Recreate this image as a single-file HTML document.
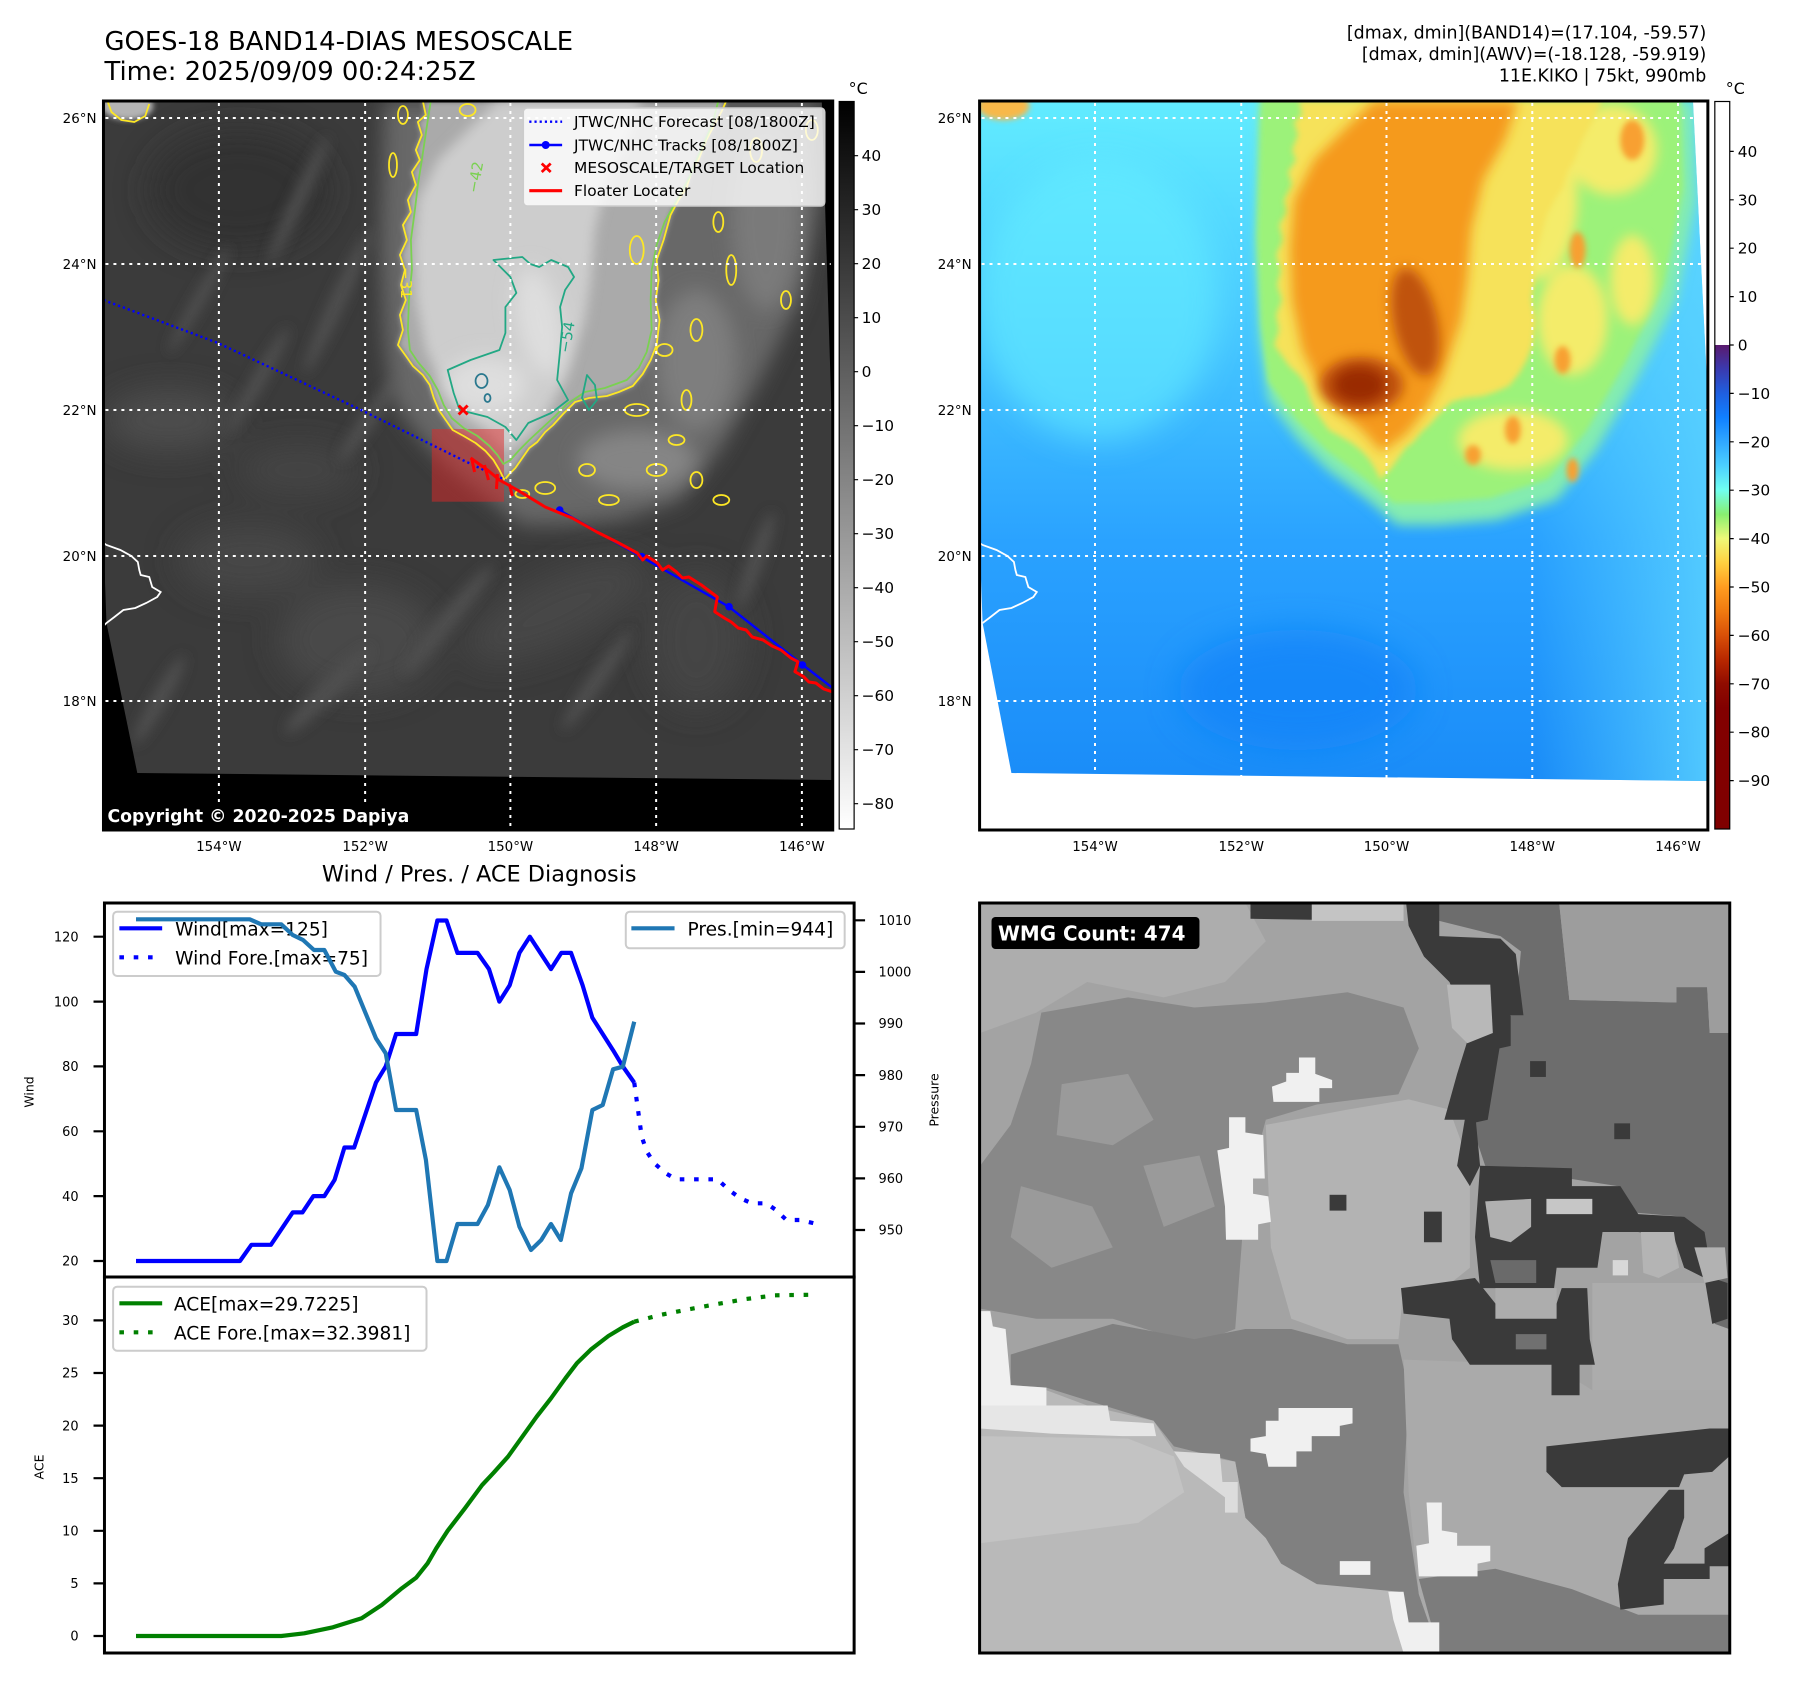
<!DOCTYPE html>
<html><head><meta charset="utf-8">
<style>
html,body{margin:0;padding:0;background:#fff;}
svg{display:block;}
text{font-family:"DejaVu Sans","Liberation Sans",sans-serif;}
</style></head>
<body>
<svg width="1797" height="1690" viewBox="0 0 1797 1690" xmlns="http://www.w3.org/2000/svg">
<defs>
  <clipPath id="cmL"><rect x="104" y="101" width="733" height="729"/></clipPath>
  <clipPath id="cmR"><rect x="980" y="101" width="732" height="729"/></clipPath>
  <clipPath id="cImgL"><polygon points="104,101 826,101 837,450 837,780 138,773 107,623 104,540"/></clipPath>
  <clipPath id="cImgR"><polygon points="980,101 1697,101 1712,400 1712,781 1012,773 983,623 980,540"/></clipPath>
  <clipPath id="cW"><rect x="980" y="903" width="754" height="750"/></clipPath>
  <linearGradient id="gL" x1="0" y1="0" x2="0" y2="1">
    <stop offset="0" stop-color="#000"/><stop offset="1" stop-color="#fff"/>
  </linearGradient>
  <linearGradient id="gR" x1="0" y1="0" x2="0" y2="1">
    <stop offset="0" stop-color="#5a1a6e"/>
    <stop offset="0.05" stop-color="#3a3ab0"/>
    <stop offset="0.1" stop-color="#1f5fe0"/>
    <stop offset="0.15" stop-color="#1080ff"/>
    <stop offset="0.2" stop-color="#30a8ff"/>
    <stop offset="0.25" stop-color="#4cd0ff"/>
    <stop offset="0.3" stop-color="#70fff0"/>
    <stop offset="0.35" stop-color="#88f070"/>
    <stop offset="0.4" stop-color="#eef878"/>
    <stop offset="0.45" stop-color="#ffd040"/>
    <stop offset="0.5" stop-color="#ff9c20"/>
    <stop offset="0.55" stop-color="#f07a10"/>
    <stop offset="0.6" stop-color="#d85008"/>
    <stop offset="0.65" stop-color="#b82800"/>
    <stop offset="0.7" stop-color="#900c00"/>
    <stop offset="0.75" stop-color="#820000"/>
    <stop offset="1" stop-color="#800000"/>
  </linearGradient>
  <linearGradient id="gBg" gradientUnits="userSpaceOnUse" x1="0" y1="101" x2="0" y2="781">
    <stop offset="0" stop-color="#62ecff"/>
    <stop offset="0.35" stop-color="#46c6ff"/>
    <stop offset="0.65" stop-color="#2aa2ff"/>
    <stop offset="1" stop-color="#1a8cf8"/>
  </linearGradient>
  <linearGradient id="gBgR" gradientUnits="userSpaceOnUse" x1="1540" y1="0" x2="1712" y2="0">
    <stop offset="0" stop-color="#5ad2ff" stop-opacity="0"/>
    <stop offset="1" stop-color="#5ad2ff" stop-opacity="0.85"/>
  </linearGradient>
  <filter id="b3" x="-30%" y="-30%" width="160%" height="160%"><feGaussianBlur stdDeviation="3"/></filter>
  <filter id="b6" x="-30%" y="-30%" width="160%" height="160%"><feGaussianBlur stdDeviation="6"/></filter>
  <filter id="b10" x="-40%" y="-40%" width="180%" height="180%"><feGaussianBlur stdDeviation="10"/></filter>
  <filter id="b16" x="-50%" y="-50%" width="200%" height="200%"><feGaussianBlur stdDeviation="16"/></filter>
  <path id="O" d="M386,101 L821,101 L824,200 L804,300 L764,380 L724,450 L684,500 L624,520 L564,525 L524,525 L494,500 L454,470 L424,440 L394,400 L386,340 L382,250 Z"/>
  <path id="S1" d="M425,101 L428,115 420,122 424,135 418,150 422,160 414,172 418,185 410,200 413,212 405,225 409,240 402,255 407,270 403,285 408,300 402,315 405,330 400,345 408,356 415,366 425,375 432,385 436,398 441,410 448,420 455,430 466,436 478,443 488,451 496,460 502,470 507,480 512,474 518,468 525,458 532,448 540,442 548,432 556,425 566,414 578,402 592,398 610,396 622,392 636,386 646,374 654,360 660,345 663,320 659,300 662,280 660,260 667,240 674,215 682,200 690,188 695,172 702,160 710,140 718,125 725,112 730,101 Z"/>
  <path id="S2" d="M500,101 L645,101 L632,140 L610,180 L598,230 L594,280 L588,320 L578,350 L568,380 L552,410 L532,435 L508,452 L490,432 L465,410 L445,385 L428,350 L418,300 L416,250 L420,200 L440,160 L470,130 Z"/>
  <g id="S3">
    <ellipse cx="488" cy="385" rx="42" ry="28"/>
    <ellipse cx="542" cy="322" rx="22" ry="55" transform="rotate(-12 542 322)"/>
  </g>
  <path id="HI" d="M104,543 L107,545 L121,550 L132,556 L138.5,562 L140,570 L141.4,575 L150,577 L153,587 L161.5,592 L158,597 L147,603 L136,608 L124,610 L115,617 L107,623 L104,626"/>
</defs>

<!-- top-right info -->
<g font-size="17.4" text-anchor="end">
  <text x="1706.3" y="38.5">[dmax, dmin](BAND14)=(17.104, -59.57)</text>
  <text x="1706.3" y="60">[dmax, dmin](AWV)=(-18.128, -59.919)</text>
  <text x="1706.3" y="81.5">11E.KIKO | 75kt, 990mb</text>
</g>

<!-- ================= LEFT HALF ================= -->
<g transform="scale(0.9949,1)">
<text x="105" y="50" font-size="26">GOES-18 BAND14-DIAS MESOSCALE</text>
<text x="105" y="80" font-size="26">Time: 2025/09/09 00:24:25Z</text>

<g clip-path="url(#cmL)">
  <rect x="104" y="101" width="733" height="729" fill="#000"/>
  <g clip-path="url(#cImgL)">
    <rect x="104" y="101" width="733" height="729" fill="#3b3b3b"/>
    <g filter="url(#b16)">
      <ellipse cx="240" cy="190" rx="90" ry="60" fill="#333"/>
      <ellipse cx="170" cy="420" rx="65" ry="30" fill="#4e4e4e"/>
      <ellipse cx="360" cy="640" rx="80" ry="55" fill="#4a4a4a"/>
      <ellipse cx="560" cy="610" rx="100" ry="35" fill="#474747" transform="rotate(-25 560 610)"/>
      <ellipse cx="700" cy="640" rx="50" ry="70" fill="#444"/>
      <ellipse cx="300" cy="470" rx="60" ry="25" fill="#444"/>
      <ellipse cx="250" cy="560" rx="70" ry="35" fill="#464646"/>
    </g>
    <g filter="url(#b6)" fill="#4f4f4f">
      <ellipse cx="300" cy="200" rx="70" ry="7" transform="rotate(-65 300 200)"/>
      <ellipse cx="340" cy="300" rx="80" ry="8" transform="rotate(-65 340 300)"/>
      <ellipse cx="200" cy="300" rx="60" ry="6" transform="rotate(-60 200 300)"/>
      <ellipse cx="260" cy="380" rx="60" ry="7" transform="rotate(-60 260 380)"/>
      <ellipse cx="370" cy="420" rx="50" ry="8" transform="rotate(-55 370 420)"/>
      <ellipse cx="450" cy="620" rx="70" ry="9" transform="rotate(-50 450 620)"/>
      <ellipse cx="600" cy="680" rx="60" ry="8" transform="rotate(-55 600 680)"/>
      <ellipse cx="330" cy="690" rx="60" ry="10" transform="rotate(-45 330 690)"/>
      <ellipse cx="160" cy="700" rx="50" ry="8" transform="rotate(-60 160 700)"/>
      <ellipse cx="760" cy="560" rx="50" ry="8" transform="rotate(-70 760 560)"/>
    </g>
    <use href="#O" fill="#686868" filter="url(#b10)"/>
    <g filter="url(#b10)">
      <ellipse cx="770" cy="220" rx="35" ry="90" fill="#7a7a7a"/>
      <ellipse cx="700" cy="360" rx="40" ry="70" fill="#7e7e7e"/>
      <ellipse cx="640" cy="460" rx="60" ry="30" fill="#858585"/>
    </g>
    <use href="#S1" fill="#aaaaaa" filter="url(#b3)"/>
    <use href="#S2" fill="#cdcdcd" filter="url(#b6)"/>
    <use href="#S3" fill="#dedede" filter="url(#b10)"/>
    <ellipse cx="128" cy="106" rx="26" ry="14" fill="#b4b4b4" filter="url(#b3)"/>
  </g>
  <rect x="434" y="429" width="72.6" height="72.7" fill="#e02828" fill-opacity="0.5"/>
  <g fill="none" stroke-width="1.8" stroke-linejoin="round">
    <use href="#S1" stroke="#fde725"/>
    <path stroke="#7ad151" d="M433,101 L430,120 427,140 424,160 420,185 417,210 413,240 414,270 411,300 410,330 412,350 420,362 432,376 440,390 446,405 454,418 466,428 480,436 492,446 500,455 506,464 513,460 522,450 532,440 545,428 558,416 570,404 588,392 608,388 630,380 642,368 650,352 655,330 654,300 655,270 660,245 668,222 678,204 686,190 694,175 700,160 708,142 716,124 722,101"/>
    <path stroke="#22a884" d="M496,260 L525,257 533,264 542,267 554,260 571,267 577,277 568,290 563,307 565,327 563,350 560,380 571,400 554,413 531,423 519,440 508,427 490,417 462,410 456,393 450,370 473,360 502,350 508,333 508,307 519,293 513,277 Z"/>
    <ellipse cx="484" cy="381" rx="6" ry="7" stroke="#2a788e"/>
    <ellipse cx="490" cy="398" rx="3" ry="4" stroke="#2a788e"/>
    <path stroke="#22a884" d="M590,375 L598,385 600,400 592,410 585,398 Z"/>
    <g stroke="#fde725">
      <path d="M108,101 L112,112 122,120 135,122 146,116 150,104"/>
      <ellipse cx="640" cy="410" rx="12" ry="6"/>
      <ellipse cx="680" cy="440" rx="8" ry="5"/>
      <ellipse cx="660" cy="470" rx="10" ry="6"/>
      <ellipse cx="700" cy="480" rx="6" ry="8"/>
      <ellipse cx="725" cy="500" rx="8" ry="5"/>
      <ellipse cx="590" cy="470" rx="8" ry="6"/>
      <ellipse cx="612" cy="500" rx="10" ry="5"/>
      <ellipse cx="735" cy="270" rx="5" ry="15"/>
      <ellipse cx="722" cy="222" rx="5" ry="10"/>
      <ellipse cx="700" cy="330" rx="6" ry="11"/>
      <ellipse cx="668" cy="350" rx="8" ry="6"/>
      <ellipse cx="548" cy="488" rx="10" ry="6"/>
      <ellipse cx="525" cy="494" rx="7" ry="4"/>
      <ellipse cx="760" cy="150" rx="6" ry="12"/>
      <ellipse cx="790" cy="300" rx="5" ry="9"/>
      <ellipse cx="470" cy="110" rx="8" ry="6"/>
      <ellipse cx="640" cy="250" rx="7" ry="14"/>
      <ellipse cx="816" cy="130" rx="6" ry="10"/>
      <ellipse cx="395" cy="165" rx="4" ry="12"/>
      <ellipse cx="405" cy="115" rx="5" ry="9"/>
      <ellipse cx="690" cy="400" rx="5" ry="10"/>
    </g>
  </g>
  <g font-size="15">
    <text transform="translate(403,283) rotate(90)" fill="#fde725" text-anchor="middle">−31</text>
    <text transform="translate(483,178) rotate(-80)" fill="#7ad151" text-anchor="middle">−42</text>
    <text transform="translate(575,338) rotate(-80)" fill="#22a884" text-anchor="middle">−54</text>
  </g>
  <use href="#HI" fill="none" stroke="#fff" stroke-width="1.8"/>
  <g stroke="#fff" stroke-width="2" stroke-dasharray="3 5" fill="none">
    <path d="M106,118 H822 M106,264 H835 M106,410 H835 M106,556 H835 M106,701 H835"/>
    <path d="M220,103 V829 M367,103 V829 M513,103 V829 M659.5,103 V829 M806,103 V829"/>
  </g>
  <path d="M104,300 L219,343 L363,410 L467,461 L508,480" fill="none" stroke="#0000ff" stroke-width="2.4" stroke-dasharray="2.2 3"/>
  <path d="M562,510 L645,557 L733,607 L807,665 L837,688" fill="none" stroke="#0000ff" stroke-width="2.4"/>
  <g fill="#0000ff"><circle cx="562.6" cy="510" r="3.8"/><circle cx="645" cy="556.7" r="3.8"/><circle cx="732.8" cy="606.7" r="3.8"/><circle cx="806.6" cy="665" r="3.8"/></g>
  <path d="M473,458 L490,470 L502,480 L520,490 L548,507 L575,518 L600,532 L620,542 L640.5,553 L646,560 L650,556 L660.7,563 L666,570 L672,566 L680,572 L686,578 L692.4,577 L705,585 L721,597 L718.4,611.7 L728,618 L735,622 L742,628 L750,630 L756,637 L767,640 L776,646 L785,650 L795,658 L802,661.7 L799,671.7 L807.8,676.7 L813,682 L820,683 L828,689 L837,692" fill="none" stroke="#ff0000" stroke-width="3" stroke-linejoin="round"/>
  <g stroke="#ff0000" stroke-width="3" fill="none">
    <path d="M474,458 L477,472"/><path d="M487,465 L491,480"/><path d="M500,474 L499,489"/><path d="M512,484 L515,496"/>
  </g>
  <g stroke="#ff0000" stroke-width="3"><path d="M461,405.5 L470,414.5 M470,405.5 L461,414.5"/></g>
  <rect x="104" y="803" width="310" height="28" fill="#000"/>
  <text x="108" y="822" font-size="17.4" font-weight="bold" fill="#fff">Copyright © 2020-2025 Dapiya</text>
  <rect x="526" y="108" width="303" height="98" rx="4" fill="#fff" fill-opacity="0.8" stroke="#cccccc" stroke-width="1.5"/>
  <path d="M532,121.7 H565" stroke="#0000ff" stroke-width="2.4" stroke-dasharray="2.2 3"/>
  <path d="M532,145 H565" stroke="#0000ff" stroke-width="2.4"/>
  <circle cx="548.5" cy="145" r="4" fill="#0000ff"/>
  <path d="M544.5,163.5 L553.5,172 M553.5,163.5 L544.5,172" stroke="#ff0000" stroke-width="2.8"/>
  <path d="M532,190.7 H565" stroke="#ff0000" stroke-width="3.2"/>
  <g font-size="15.5" fill="#000">
    <text x="577" y="127">JTWC/NHC Forecast [08/1800Z]</text>
    <text x="577" y="150.5">JTWC/NHC Tracks [08/1800Z]</text>
    <text x="577" y="173">MESOSCALE/TARGET Location</text>
    <text x="577" y="196">Floater Locater</text>
  </g>
</g>
<rect x="104" y="101" width="733" height="729" fill="none" stroke="#000" stroke-width="3"/>
<g font-size="13.5" text-anchor="end">
  <text x="97" y="123">26°N</text><text x="97" y="269">24°N</text><text x="97" y="415">22°N</text><text x="97" y="561">20°N</text><text x="97" y="706">18°N</text>
</g>
<g font-size="13.5" text-anchor="middle">
  <text x="220" y="851">154°W</text><text x="367" y="851">152°W</text><text x="513" y="851">150°W</text><text x="659.5" y="851">148°W</text><text x="806" y="851">146°W</text>
</g>
<rect x="843.5" y="101.5" width="15" height="727.5" fill="url(#gL)" stroke="#000" stroke-width="1.2"/>
<text x="853" y="94" font-size="16">°C</text>
<g stroke="#000" stroke-width="1.2">
  <path d="M858.5,155.7h4M858.5,209.7h4M858.5,263.7h4M858.5,317.7h4M858.5,371.7h4M858.5,425.7h4M858.5,479.7h4M858.5,533.7h4M858.5,587.7h4M858.5,641.7h4M858.5,695.7h4M858.5,749.7h4M858.5,803.7h4"/>
</g>
<g font-size="15.5">
  <text x="866" y="161.2">40</text><text x="866" y="215.2">30</text><text x="866" y="269.2">20</text><text x="866" y="323.2">10</text><text x="866" y="377.2">0</text>
  <text x="866" y="431.2">−10</text><text x="866" y="485.2">−20</text><text x="866" y="539.2">−30</text><text x="866" y="593.2">−40</text><text x="866" y="647.2">−50</text>
  <text x="866" y="701.2">−60</text><text x="866" y="755.2">−70</text><text x="866" y="809.2">−80</text>
</g>

<!-- CHARTS -->
<text x="481.7" y="881.7" font-size="22.5" text-anchor="middle">Wind / Pres. / ACE Diagnosis</text>
<g stroke="#000" stroke-width="2.2">
  <path d="M94,1261H105M94,1196.1H105M94,1131.3H105M94,1066.4H105M94,1001.6H105M94,936.7H105"/>
  <path d="M858.5,1230H869.5M858.5,1178.4H869.5M858.5,1126.8H869.5M858.5,1075.1H869.5M858.5,1023.5H869.5M858.5,971.9H869.5M858.5,920.3H869.5"/>
  <path d="M94,1636H105M94,1583.4H105M94,1530.8H105M94,1478.2H105M94,1425.6H105M94,1373H105M94,1320.4H105"/>
</g>
<g font-size="13" text-anchor="end">
  <text x="79" y="1265.7">20</text><text x="79" y="1200.8">40</text><text x="79" y="1136">60</text><text x="79" y="1071.1">80</text><text x="79" y="1006.3">100</text><text x="79" y="941.4">120</text>
  <text x="79" y="1640.7">0</text><text x="79" y="1588.1">5</text><text x="79" y="1535.5">10</text><text x="79" y="1482.9">15</text><text x="79" y="1430.3">20</text><text x="79" y="1377.7">25</text><text x="79" y="1325.1">30</text>
</g>
<g font-size="13">
  <text x="883" y="1234.7">950</text><text x="883" y="1183.1">960</text><text x="883" y="1131.5">970</text><text x="883" y="1079.8">980</text><text x="883" y="1028.2">990</text><text x="883" y="976.6">1000</text><text x="883" y="925">1010</text>
</g>
<text transform="translate(33.5,1092) rotate(-90)" font-size="12.5" text-anchor="middle">Wind</text>
<text transform="translate(43.5,1467) rotate(-90)" font-size="12.5" text-anchor="middle">ACE</text>
<text transform="translate(943.5,1100) rotate(-90)" font-size="12.5" text-anchor="middle">Pressure</text>

<g fill="none" stroke-width="4.2" stroke-linejoin="round">
  <path stroke="#0000ff" d="M136.7,1261 L241.2,1261 L252.7,1244.8 L272.3,1244.8 L294.2,1212.4 L304,1212.4 L315,1196.1 L326,1196.1 L336.3,1179.9 L346.2,1147.5 L356,1147.5 L377.9,1082.6 L387.7,1066.4 L398.1,1034 L418.3,1034 L428.7,969.1 L439.6,920.5 L448.8,920.5 L459.8,952.9 L480,952.9 L491.5,969.1 L501.9,1001.6 L512.3,985.3 L522.1,952.9 L532.5,936.7 L553.8,969.1 L564.2,952.9 L574,952.9 L585.6,985.3 L595.4,1017.8 L605.8,1034 L616.2,1050.2 L626,1066.4 L637.5,1082.6"/>
  <path stroke="#0000ff" stroke-dasharray="4.6 9.8" d="M637.5,1082.6 L645,1136.7 L650.2,1151.7 L657.7,1163.3 L669.2,1173.3 L679.6,1179.3 L721.2,1179.3 L732.7,1190 L744.2,1198.3 L755.8,1203.3 L770.2,1203.3 L780,1210 L790.4,1220 L804.8,1220 L818.1,1223.3"/>
</g>
<rect x="113.7" y="911.7" width="268.8" height="64.3" rx="4" fill="#fff" fill-opacity="0.8" stroke="#cccccc" stroke-width="2"/>
<path d="M120,928.3H163" stroke="#0000ff" stroke-width="4.2"/>
<path d="M120,957.3H163" stroke="#0000ff" stroke-width="4.2" stroke-dasharray="4.6 9.8"/>
<g font-size="18.7">
  <text x="176" y="935.3">Wind[max=125]</text>
  <text x="176" y="964.3">Wind Fore.[max=75]</text>
</g>
<path fill="none" stroke="#1f77b4" stroke-width="4.2" stroke-linejoin="round" d="M136.7,919.3 L251,919.3 L262.5,924.3 L282.7,924.3 L294.2,935 L304.6,940 L315.6,950 L326,950 L337.5,971.7 L346.2,975 L356.5,986.7 L367.5,1013.3 L377.9,1038.3 L387.7,1053.3 L398.1,1110 L418.3,1110 L428.1,1160 L439.6,1261 L448.8,1261 L459.8,1224 L480,1224 L490.4,1205 L501.9,1167.3 L512.3,1190 L522.1,1226.7 L533.7,1250 L544,1240 L553.8,1224 L563.7,1240 L574,1193.3 L584.4,1168.3 L595.4,1110 L605.8,1105 L616.2,1069.3 L626,1066.7 L637.5,1021.7"/>
<rect x="629" y="911.7" width="220" height="36.6" rx="4" fill="#fff" fill-opacity="0.8" stroke="#cccccc" stroke-width="2"/>
<path d="M634.6,928.3H678" stroke="#1f77b4" stroke-width="4.2"/>
<text x="691" y="935.3" font-size="18.7">Pres.[min=944]</text>

<g fill="none" stroke="#008000" stroke-width="4.2" stroke-linejoin="round">
  <path d="M136.7,1636 L282.7,1636 L305.8,1633.3 L334.6,1627.3 L363.5,1618.3 L383.7,1605 L403.9,1588.3 L418.3,1577.7 L429.8,1563.3 L438.5,1548.3 L450,1530.7 L467.3,1508.3 L484.6,1485 L496.2,1472.7 L510.6,1456.7 L525,1436.7 L539.4,1416.7 L553.8,1398.3 L568.3,1378.3 L579.8,1363.3 L594.2,1349.3 L611.5,1336 L626,1327.3 L637.5,1321.7"/>
  <path stroke-dasharray="4.6 9.8" d="M637.5,1321.7 L663.5,1315 L692.3,1309.3 L721.2,1304 L750,1299 L778.9,1295.3 L818.1,1294.7"/>
</g>
<rect x="113.7" y="1286.7" width="315" height="64" rx="4" fill="#fff" fill-opacity="0.8" stroke="#cccccc" stroke-width="2"/>
<path d="M120,1303.3H163" stroke="#008000" stroke-width="4.2"/>
<path d="M120,1332.3H163" stroke="#008000" stroke-width="4.2" stroke-dasharray="4.6 9.8"/>
<g font-size="18.7">
  <text x="174.8" y="1310.3">ACE[max=29.7225]</text>
  <text x="174.8" y="1339.3">ACE Fore.[max=32.3981]</text>
</g>
<rect x="105" y="903" width="753.5" height="374" fill="none" stroke="#000" stroke-width="3"/>
<rect x="105" y="1277" width="753.5" height="376" fill="none" stroke="#000" stroke-width="3"/>
</g>

<!-- ================= RIGHT HALF ================= -->
<g transform="translate(4.59,0) scale(0.9949,1)">
<g clip-path="url(#cmR)">
  <rect x="980" y="101" width="732" height="729" fill="#fff"/>
  <g clip-path="url(#cImgR)">
    <rect x="980" y="101" width="732" height="729" fill="url(#gBg)"/>
    <rect x="1540" y="101" width="172" height="729" fill="url(#gBgR)"/>
    <g filter="url(#b16)">
      <ellipse cx="1300" cy="690" rx="120" ry="60" fill="#1482f8" opacity="0.7"/>
      <ellipse cx="1100" cy="300" rx="120" ry="140" fill="#66eeff" opacity="0.6"/>
    </g>
    <g transform="translate(876,0)">
      <use href="#O" fill="#84ecb0" filter="url(#b6)"/>
      <use href="#O" fill="#9cf27a" transform="translate(12,-6) scale(0.97)" filter="url(#b3)"/>
      <g filter="url(#b6)" fill="#f4ec6a">
        <ellipse cx="660" cy="200" rx="45" ry="80"/>
        <ellipse cx="740" cy="150" rx="45" ry="45"/>
        <ellipse cx="700" cy="320" rx="35" ry="55"/>
        <ellipse cx="640" cy="440" rx="55" ry="30"/>
        <ellipse cx="760" cy="280" rx="22" ry="45"/>
      </g>
      <g filter="url(#b3)" fill="#f8a030">
        <ellipse cx="640" cy="430" rx="8" ry="14"/>
        <ellipse cx="700" cy="470" rx="6" ry="12"/>
        <ellipse cx="760" cy="140" rx="12" ry="20"/>
        <ellipse cx="665" cy="170" rx="10" ry="22"/>
        <ellipse cx="705" cy="250" rx="8" ry="18"/>
        <ellipse cx="690" cy="360" rx="8" ry="14"/>
        <ellipse cx="600" cy="455" rx="8" ry="10"/>
      </g>
      <use href="#S1" fill="#f6e25a" filter="url(#b3)"/>
      <use href="#S2" fill="#f59a1c" filter="url(#b6)"/>
      <use href="#S3" fill="#c0520a" filter="url(#b6)"/>
      <ellipse cx="486" cy="385" rx="26" ry="18" fill="#9a2a00" filter="url(#b6)"/>
      <ellipse cx="128" cy="106" rx="26" ry="14" fill="#f8b848" filter="url(#b3)"/>
      <use href="#HI" fill="none" stroke="#fff" stroke-width="1.8"/>
    </g>
  </g>
  <g stroke="#fff" stroke-width="2" stroke-dasharray="3 5" fill="none">
    <path d="M982,118 H1698 M982,264 H1710 M982,410 H1711 M982,556 H1711 M982,701 H1711"/>
    <path d="M1096,103 V777 M1243,103 V778 M1389,103 V778 M1535.5,103 V779 M1682,103 V780"/>
  </g>
</g>
<rect x="980" y="101" width="732" height="729" fill="none" stroke="#000" stroke-width="3"/>
<g font-size="13.5" text-anchor="end">
  <text x="972" y="123">26°N</text><text x="972" y="269">24°N</text><text x="972" y="415">22°N</text><text x="972" y="561">20°N</text><text x="972" y="706">18°N</text>
</g>
<g font-size="13.5" text-anchor="middle">
  <text x="1096" y="851">154°W</text><text x="1243" y="851">152°W</text><text x="1389" y="851">150°W</text><text x="1535.5" y="851">148°W</text><text x="1682" y="851">146°W</text>
</g>
<rect x="1719" y="101.5" width="15" height="243.5" fill="#fff"/>
<rect x="1719" y="345" width="15" height="484" fill="url(#gR)"/>
<rect x="1719" y="101.5" width="15" height="727.5" fill="none" stroke="#000" stroke-width="1.2"/>
<text x="1730" y="94" font-size="16">°C</text>
<g stroke="#000" stroke-width="1.2">
  <path d="M1734,151.4h4M1734,199.8h4M1734,248.2h4M1734,296.6h4M1734,345h4M1734,393.4h4M1734,441.8h4M1734,490.2h4M1734,538.6h4M1734,587h4M1734,635.4h4M1734,683.8h4M1734,732.2h4M1734,780.6h4"/>
</g>
<g font-size="15.5">
  <text x="1742" y="156.9">40</text><text x="1742" y="205.3">30</text><text x="1742" y="253.7">20</text><text x="1742" y="302.1">10</text><text x="1742" y="350.5">0</text>
  <text x="1742" y="398.9">−10</text><text x="1742" y="447.3">−20</text><text x="1742" y="495.7">−30</text><text x="1742" y="544.1">−40</text><text x="1742" y="592.5">−50</text>
  <text x="1742" y="640.9">−60</text><text x="1742" y="689.3">−70</text><text x="1742" y="737.7">−80</text><text x="1742" y="786.1">−90</text>
</g>

<!-- WMG PANEL -->
<g clip-path="url(#cW)">
 <g transform="translate(960,880) scale(0.5128,0.5102)">
  <rect x="37" y="45" width="1471" height="1470" fill="#a3a3a3"/>
  <polygon fill="#adadad" points="40,45 560,45 600,120 520,200 400,230 250,200 150,260 40,300"/>
  <polygon fill="#888888" points="160,260 330,230 460,250 600,240 760,220 870,250 900,330 860,420 700,440 600,470 560,620 540,880 460,910 300,860 150,860 40,840 40,560 100,480 140,360"/>
  <g fill="#9a9a9a">
    <polygon points="200,400 330,380 380,470 300,520 190,500"/>
    <polygon points="120,600 260,640 300,720 180,760 100,700"/>
    <polygon points="360,560 470,540 500,640 400,680"/>
  </g>
  <polygon fill="#b3b3b3" points="600,480 760,450 880,430 960,450 1000,560 1000,760 950,800 870,800 860,900 760,900 650,860 610,720"/>
  <polygon fill="#808080" points="300,870 460,900 560,880 650,880 760,910 860,910 880,1000 870,1200 900,1400 940,1515 560,1515 560,1250 540,1140 420,1110 380,1060 250,1020 170,995 100,990 100,930 200,900"/>
  <polygon fill="#b9b9b9" points="40,1030 170,1000 250,1030 380,1060 420,1120 540,1140 560,1250 600,1290 630,1340 700,1380 860,1395 880,1460 940,1515 40,1515"/>
  <polygon fill="#c3c3c3" points="40,1090 330,1095 420,1130 440,1200 350,1260 200,1280 40,1300"/>
  <polygon fill="#aaaaaa" points="870,940 1160,950 1240,1000 1508,1000 1508,1515 940,1515 900,1400 880,1200"/>
  <polygon fill="#acacac" points="1240,790 1480,790 1508,800 1508,1000 1240,1000"/>
  <polygon fill="#7c7c7c" points="900,1370 1050,1350 1200,1390 1330,1440 1508,1440 1508,1515 940,1515"/>
  <polygon fill="#6d6d6d" points="900,45 1175,45 1195,235 1405,240 1405,210 1465,210 1470,300 1508,300 1508,880 1480,870 1470,780 1440,690 1420,660 1300,650 1290,600 1030,560 1000,470 1040,330 1060,300 1090,250 1100,140 1060,110 940,80"/>
  <polygon fill="#9d9d9d" points="1175,45 1508,45 1508,300 1470,300 1465,210 1405,210 1405,240 1195,235"/>
  <polygon fill="#c4c4c4" points="690,45 870,45 870,80 690,80"/>
  <g fill="#3a3a3a">
    <polygon points="875,45 940,45 940,110 1060,115 1090,145 1105,265 1080,265 1080,325 1058,330 1035,470 1012,475 1020,560 1000,600 975,560 990,470 950,470 975,380 1000,300 960,200 910,150 880,90"/>
    <polygon points="570,45 690,45 690,78 570,76"/>
    <polygon points="1020,560 1200,565 1200,600 1295,600 1330,655 1420,660 1460,690 1475,780 1505,790 1505,860 1475,870 1460,780 1420,760 1400,700 1330,690 1260,690 1250,760 1170,760 1165,800 1020,800 1010,700"/>
    <polygon points="865,800 1010,780 1050,830 1170,830 1180,800 1230,800 1235,900 1245,950 1215,950 1215,1010 1160,1010 1160,950 1000,950 965,900 960,860 870,850"/>
    <polygon points="1150,1110 1470,1075 1508,1075 1508,1130 1475,1160 1420,1165 1410,1190 1180,1190 1150,1160"/>
    <polygon points="1390,1195 1420,1195 1420,1250 1400,1310 1380,1340 1470,1340 1470,1370 1380,1370 1380,1420 1295,1430 1290,1380 1310,1290 1360,1230"/>
    <polygon points="1460,1310 1508,1280 1508,1345 1460,1345"/>
    <rect x="1118" y="355" width="31" height="31"/>
    <rect x="1283" y="477" width="31" height="31"/>
    <rect x="725" y="617" width="33" height="31"/>
    <rect x="910" y="650" width="35" height="60"/>
  </g>
  <polygon fill="#b8b8b8" points="955,205 1040,205 1045,300 995,320 965,290"/>
  <polygon fill="#c6c6c6" points="1150,625 1240,625 1240,655 1150,655"/>
  <polygon fill="#b0b0b0" points="1030,630 1120,625 1120,680 1080,710 1040,700"/>
  <polygon fill="#adadad" points="1050,800 1170,800 1170,860 1050,860"/>
  <polygon fill="#707070" points="1090,890 1150,890 1150,920 1090,920"/>
  <polygon fill="#6a6a6a" points="1040,745 1130,745 1130,790 1050,790"/>
  <polygon fill="#b4b4b4" points="1335,690 1400,690 1410,760 1370,780 1340,770"/>
  <polygon fill="#b2b2b2" points="1440,720 1500,720 1505,780 1460,790"/>
  <rect fill="#d8d8d8" x="1280" y="745" width="30" height="30"/>
  <g fill="#f0f0f0">
    <polygon points="665,348 697,348 697,380 730,392 730,408 705,408 705,435 615,435 612,405 640,395 640,378 665,378"/>
    <polygon points="528,465 560,465 560,495 595,500 598,585 575,585 575,615 605,620 610,670 585,675 585,705 522,705 520,640 505,530 528,525"/>
    <polygon points="40,845 60,845 65,875 90,880 100,990 170,995 170,1030 40,1040"/>
    <polygon points="625,1035 770,1035 770,1065 745,1070 745,1090 690,1090 690,1120 660,1120 660,1150 605,1150 600,1125 570,1120 570,1095 600,1090 600,1060 625,1060"/>
    <polygon points="915,1220 945,1220 945,1275 975,1280 975,1305 1040,1305 1040,1335 1015,1340 1015,1365 900,1365 895,1305 920,1300"/>
    <polygon points="745,1335 805,1335 805,1362 745,1362"/>
    <polygon points="840,1395 870,1395 880,1455 940,1455 940,1515 870,1515 850,1450"/>
  </g>
  <polygon fill="#e6e6e6" points="40,1030 170,1030 230,1030 290,1030 295,1060 380,1065 385,1090 320,1090 180,1085 40,1075"/>
  <polygon fill="#dcdcdc" points="420,1120 510,1125 515,1180 545,1180 545,1240 520,1240 520,1210 440,1150"/>
 </g>
 <rect x="992" y="917" width="209" height="32" rx="4" fill="#000"/>
 <text x="998.5" y="940.5" font-size="20" font-weight="bold" fill="#fff">WMG Count: 474</text>
</g>
<rect x="980" y="903" width="754" height="750" fill="none" stroke="#000" stroke-width="3"/>
</g>
</svg>
</body></html>
